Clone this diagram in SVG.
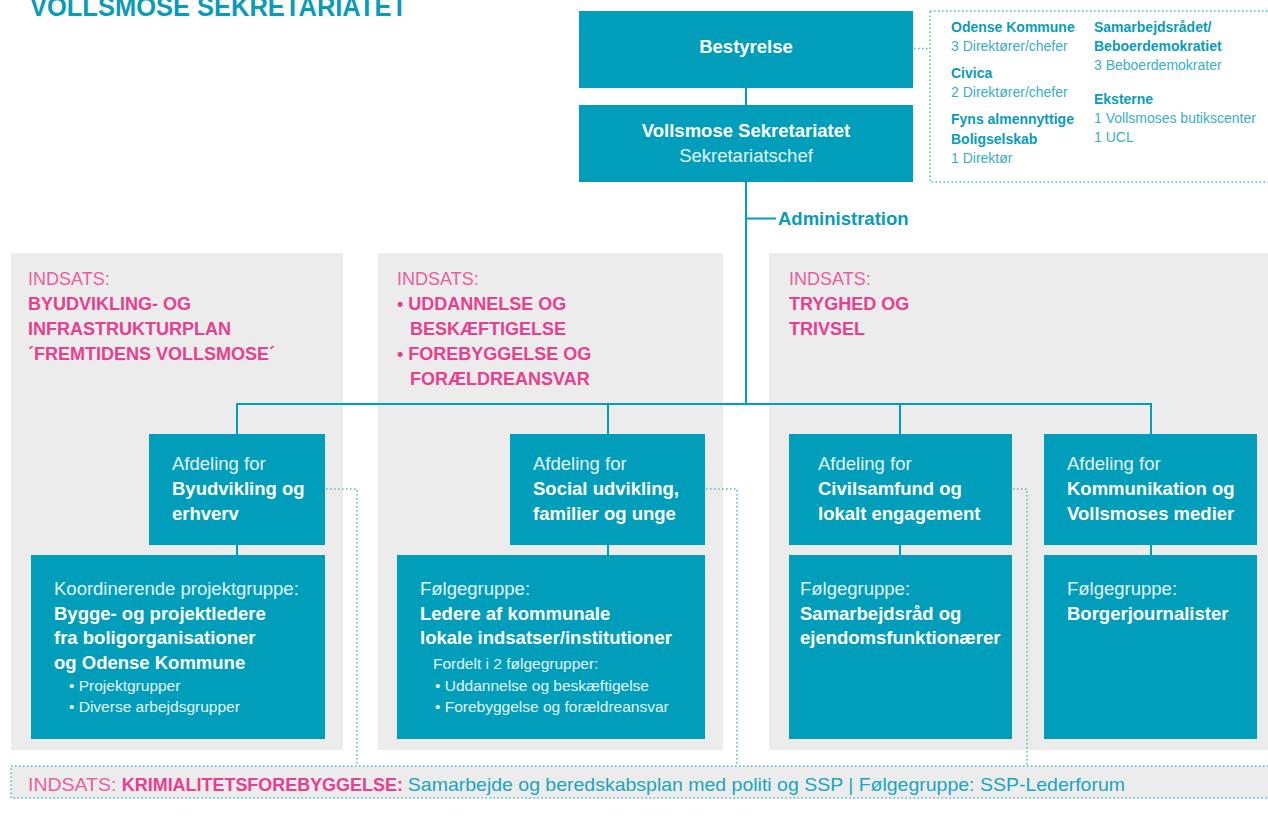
<svg xmlns="http://www.w3.org/2000/svg" width="1268" height="822" viewBox="0 0 1268 822">
<style>
.box{fill:#009ebb}
.panel{fill:#ececec}
.b{font-family:"Liberation Sans",Arial,sans-serif;font-weight:bold;fill:#ffffff;font-size:18.5px}
.l{font-family:"Liberation Sans",Arial,sans-serif;fill:#e3f4f8;font-size:18.5px}
.s{font-family:"Liberation Sans",Arial,sans-serif;fill:#e3f4f8;font-size:15.5px}
.pl{font-family:"Liberation Sans",Arial,sans-serif;fill:#ea5fa2;font-size:18px}
.pb{font-family:"Liberation Sans",Arial,sans-serif;font-weight:bold;fill:#e6408f;font-size:18px}
.tb{font-family:"Liberation Sans",Arial,sans-serif;font-weight:bold;fill:#0a9bb8;font-size:14px}
.tl{font-family:"Liberation Sans",Arial,sans-serif;fill:#3aaec6;font-size:14px}
.conn{stroke:#009ebb;stroke-width:2;fill:none}
.dot{stroke:#4db5ca;stroke-width:1.5;fill:none;stroke-dasharray:1.5 2.5}
</style>

<text x="30" y="16" font-family="Liberation Sans,Arial,sans-serif" font-weight="bold" font-size="27" fill="#0a9bb8" textLength="377" lengthAdjust="spacingAndGlyphs">VOLLSMOSE SEKRETARIATET</text>

<g id="panels">
<rect class="panel" x="11" y="253" width="332" height="497"/>
<rect class="panel" x="378" y="253" width="345" height="497"/>
<rect class="panel" x="769" y="253" width="510" height="497"/>
</g>

<g id="panel-byudvikling">
<text class="pl" x="28" y="285">INDSATS:</text>
<text class="pb" x="28" y="310">BYUDVIKLING- OG</text>
<text class="pb" x="28" y="335">INFRASTRUKTURPLAN</text>
<text class="pb" x="28" y="360">´FREMTIDENS VOLLSMOSE´</text>
</g>
<g id="panel-uddannelse">
<text class="pl" x="397" y="285">INDSATS:</text>
<text class="pb" x="397" y="310">• UDDANNELSE OG</text>
<text class="pb" x="410" y="335">BESKÆFTIGELSE</text>
<text class="pb" x="397" y="360">• FOREBYGGELSE OG</text>
<text class="pb" x="410" y="385">FORÆLDREANSVAR</text>
</g>
<g id="panel-tryghed">
<text class="pl" x="789" y="285">INDSATS:</text>
<text class="pb" x="789" y="310">TRYGHED OG</text>
<text class="pb" x="789" y="335">TRIVSEL</text>
</g>

<g id="connectors">
<line class="conn" x1="746" y1="87" x2="746" y2="106"/>
<line class="conn" x1="746" y1="181" x2="746" y2="405"/>
<line class="conn" x1="746" y1="218.5" x2="776" y2="218.5"/>
<polyline class="conn" points="237,435 237,404 1151,404 1151,435"/>
<line class="conn" x1="608" y1="404" x2="608" y2="435"/>
<line class="conn" x1="900" y1="404" x2="900" y2="435"/>
<line class="conn" x1="237" y1="544" x2="237" y2="556"/>
<line class="conn" x1="608" y1="544" x2="608" y2="556"/>
<line class="conn" x1="900" y1="544" x2="900" y2="556"/>
<line class="conn" x1="1151" y1="544" x2="1151" y2="556"/>
<polyline class="dot" points="914,48.5 930,48.5"/>
<polyline class="dot" points="326,489 357,489 357,766"/>
<polyline class="dot" points="706,489 737,489 737,766"/>
<polyline class="dot" points="1013,489 1027,489 1027,766"/>
</g>

<g id="bestyrelse">
<rect class="box" x="579" y="11" width="334" height="77"/>
<text class="b" x="746" y="53" text-anchor="middle">Bestyrelse</text>
</g>

<g id="sekretariatet">
<rect class="box" x="579" y="105" width="334" height="77"/>
<text class="b" x="746" y="137" text-anchor="middle">Vollsmose Sekretariatet</text>
<text class="l" x="746" y="162" text-anchor="middle">Sekretariatschef</text>
</g>

<g id="administration">
<text x="778" y="225" font-family="Liberation Sans,Arial,sans-serif" font-weight="bold" font-size="18.5" fill="#0a9bb8">Administration</text>
</g>

<g id="bestyrelse-members">
<rect x="930" y="11" width="360" height="171" fill="none" stroke="#4db5ca" stroke-width="1.5" stroke-dasharray="1.5 2.5"/>
<text class="tb" x="951" y="32">Odense Kommune</text>
<text class="tl" x="951" y="51">3 Direktører/chefer</text>
<text class="tb" x="951" y="78">Civica</text>
<text class="tl" x="951" y="97">2 Direktører/chefer</text>
<text class="tb" x="951" y="124">Fyns almennyttige</text>
<text class="tb" x="951" y="144">Boligselskab</text>
<text class="tl" x="951" y="163">1 Direktør</text>
<text class="tb" x="1094" y="32">Samarbejdsrådet/</text>
<text class="tb" x="1094" y="51">Beboerdemokratiet</text>
<text class="tl" x="1094" y="70">3 Beboerdemokrater</text>
<text class="tb" x="1094" y="104">Eksterne</text>
<text class="tl" x="1094" y="123">1 Vollsmoses butikscenter</text>
<text class="tl" x="1094" y="142">1 UCL</text>
</g>

<g id="afd-byudvikling">
<rect class="box" x="149" y="434" width="176" height="111"/>
<text class="l" x="172" y="470">Afdeling for</text>
<text class="b" x="172" y="495">Byudvikling og</text>
<text class="b" x="172" y="520">erhverv</text>
</g>
<g id="afd-social">
<rect class="box" x="510" y="434" width="195" height="111"/>
<text class="l" x="533" y="470">Afdeling for</text>
<text class="b" x="533" y="495">Social udvikling,</text>
<text class="b" x="533" y="520">familier og unge</text>
</g>
<g id="afd-civilsamfund">
<rect class="box" x="789" y="434" width="223" height="111"/>
<text class="l" x="818" y="470">Afdeling for</text>
<text class="b" x="818" y="495">Civilsamfund og</text>
<text class="b" x="818" y="520">lokalt engagement</text>
</g>
<g id="afd-kommunikation">
<rect class="box" x="1044" y="434" width="213" height="111"/>
<text class="l" x="1067" y="470">Afdeling for</text>
<text class="b" x="1067" y="495">Kommunikation og</text>
<text class="b" x="1067" y="520">Vollsmoses medier</text>
</g>

<g id="grp-byudvikling">
<rect class="box" x="31" y="555" width="294" height="184"/>
<text class="l" x="54" y="595">Koordinerende projektgruppe:</text>
<text class="b" x="54" y="620">Bygge- og projektledere</text>
<text class="b" x="54" y="644">fra boligorganisationer</text>
<text class="b" x="54" y="669">og Odense Kommune</text>
<text class="s" x="69" y="691">• Projektgrupper</text>
<text class="s" x="69" y="712">• Diverse arbejdsgrupper</text>
</g>
<g id="grp-social">
<rect class="box" x="397" y="555" width="308" height="184"/>
<text class="l" x="420" y="595">Følgegruppe:</text>
<text class="b" x="420" y="620">Ledere af kommunale</text>
<text class="b" x="420" y="644">lokale indsatser/institutioner</text>
<text class="s" x="433" y="669">Fordelt i 2 følgegrupper:</text>
<text class="s" x="435" y="691">• Uddannelse og beskæftigelse</text>
<text class="s" x="435" y="712">• Forebyggelse og forældreansvar</text>
</g>
<g id="grp-civilsamfund">
<rect class="box" x="789" y="555" width="223" height="184"/>
<text class="l" x="800" y="595">Følgegruppe:</text>
<text class="b" x="800" y="620">Samarbejdsråd og</text>
<text class="b" x="800" y="644">ejendomsfunktionærer</text>
</g>
<g id="grp-kommunikation">
<rect class="box" x="1044" y="555" width="213" height="184"/>
<text class="l" x="1067" y="595">Følgegruppe:</text>
<text class="b" x="1067" y="620">Borgerjournalister</text>
</g>

<g id="kriminalitet">
<rect x="11" y="766" width="1280" height="32" fill="#ececec" stroke="#4db5ca" stroke-width="1.5" stroke-dasharray="1.5 2.5"/>
<text x="28" y="791" font-family="Liberation Sans,Arial,sans-serif" font-size="19" textLength="1097" lengthAdjust="spacingAndGlyphs"><tspan fill="#ea5fa2">INDSATS: </tspan><tspan fill="#e6408f" font-weight="bold" font-size="17.5">KRIMIALITETSFOREBYGGELSE: </tspan><tspan fill="#1aa5c0">Samarbejde og beredskabsplan med politi og SSP | Følgegruppe: SSP-Lederforum</tspan></text>
</g>
</svg>
